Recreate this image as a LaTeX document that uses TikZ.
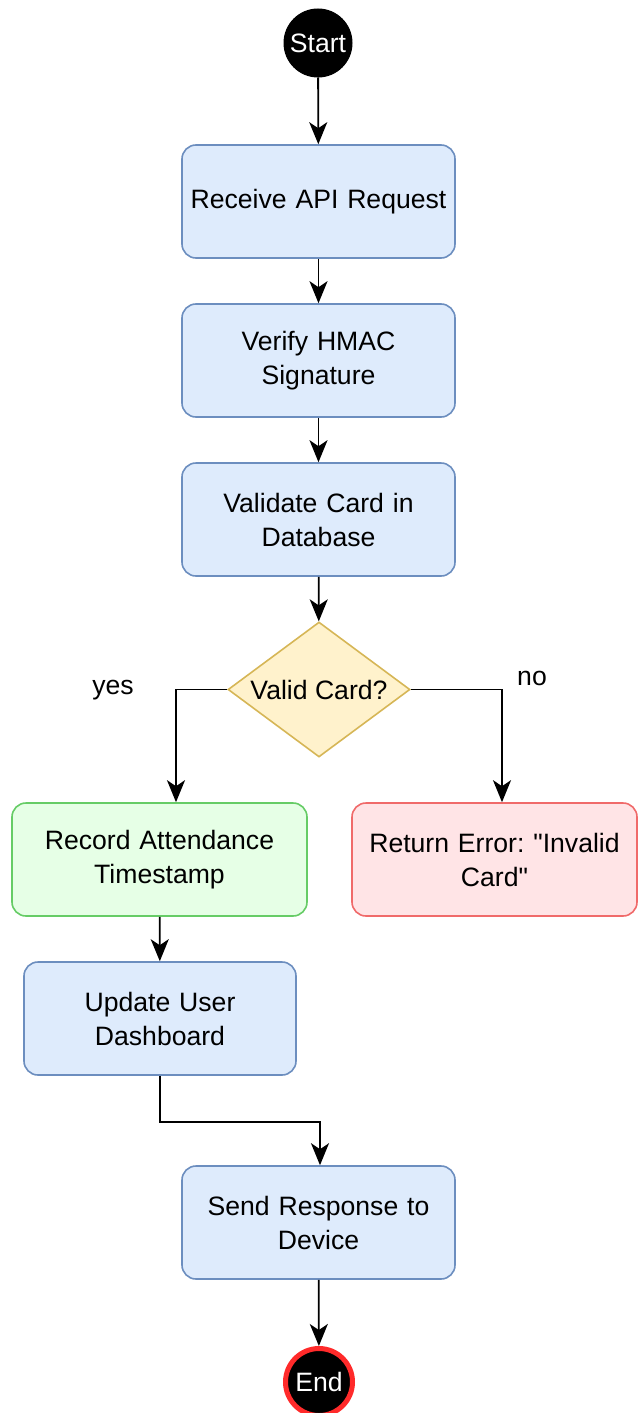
\documentclass[tikz,border=0pt]{standalone}
\usepackage{fontspec}
\setmainfont{Liberation Sans}[Ligatures=TeXOff]
\usetikzlibrary{shapes.geometric,arrows.meta}
\definecolor{bluefill}{HTML}{DEEBFC}
\definecolor{bluedraw}{HTML}{6C8EBF}
\definecolor{greenfill}{HTML}{E6FFE6}
\definecolor{greendraw}{HTML}{66CC66}
\definecolor{redfill}{HTML}{FFE4E6}
\definecolor{reddraw}{HTML}{F06A6A}
\definecolor{yellowfill}{HTML}{FFF2CC}
\definecolor{yellowdraw}{HTML}{D6B656}
\definecolor{endring}{HTML}{FF2A2A}
\tikzset{
  txt/.style={font=\fontsize{26.6}{34}\selectfont\frenchspacing, align=center},
  stepbox/.style={txt, rectangle, rounded corners=14pt, line width=1.6pt,
    minimum width=273pt, minimum height=113pt, inner sep=0pt, text width=268pt,
    draw=bluedraw, fill=bluefill},
  okbox/.style={stepbox, draw=greendraw, fill=greenfill},
  errbox/.style={stepbox, draw=reddraw, fill=redfill},
  decision/.style={txt, diamond, draw=yellowdraw, fill=yellowfill, line width=1.6pt,
    minimum width=182pt, minimum height=135pt, inner sep=0pt, shape aspect=1.35},
  terminal/.style={txt, circle, fill=black, text=white, inner sep=0pt},
  flow/.style={line width=1.8pt, -{Stealth[length=22pt,width=18pt,inset=6pt]}},
  lbl/.style={txt}
}
\begin{document}
\begin{tikzpicture}[x=1pt,y=-1pt]
\useasboundingbox (0,0) rectangle (638,1413);

\node[terminal, draw=black, line width=1pt, minimum size=68pt] (start) at (318,43) {Start};
\node[stepbox] (recv) at (318.5,201.5) {Receive API Request};
\node[stepbox] (hmac) at (318.5,360.5) {Verify HMAC\\Signature};
\node[stepbox] (card) at (318.5,519.5) {Validate Card in\\Database};
\node[decision] (valid) at (319,689.5) {Valid Card?};
\node[okbox, minimum width=295pt, text width=290pt] (rec) at (159.5,859.5) {Record Attendance\\Timestamp};
\node[errbox, minimum width=285pt, text width=282pt] (err) at (494.5,859.5) {Return Error: "Invalid\\Card"};
\node[stepbox, minimum width=272pt] (upd) at (160,1018.5) {Update User\\Dashboard};
\node[stepbox] (send) at (318.5,1222.5) {Send Response to\\Device};
\node[terminal, draw=endring, line width=5pt, minimum size=67pt] (end) at (319,1382) {End};

\node[lbl] (yes) at (113,690) {yes};
\node[lbl] (no) at (532,678) {no};

\draw[flow] (start) -- (recv);
\draw[flow] (recv) -- (hmac);
\draw[flow] (hmac) -- (card);
\draw[flow] (card) -- (valid);
\draw[flow] (valid.west) -| ([xshift=16.5pt]rec.north);
\draw[flow] (valid.east) -| ([xshift=7.5pt]err.north);
\draw[flow] (rec) -- (upd);
\path (upd.south) ++(0,46) coordinate (bend);
\draw[flow] (upd.south) -- (bend) -| ([xshift=1.5pt]send.north);
\draw[flow] (send) -- (end);
\end{tikzpicture}
\end{document}
